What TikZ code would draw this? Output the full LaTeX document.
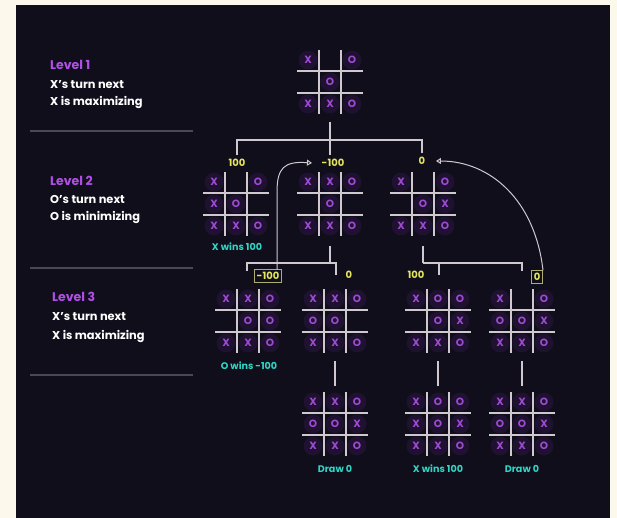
\documentclass[tikz,border=0pt]{standalone}
\usepackage{fontspec}
\setmainfont{Poppins}
\usetikzlibrary{positioning, calc, arrows.meta, backgrounds}

\definecolor{cream}{HTML}{FDF8EC}
\definecolor{panel}{HTML}{100E1A}
\definecolor{lvlc}{HTML}{B04FE6}
\definecolor{markc}{HTML}{9E4AD4}
\definecolor{gridc}{HTML}{CFC8CF}
\definecolor{scorec}{HTML}{E4E65C}
\definecolor{resultc}{HTML}{2FD6C6}
\definecolor{sepc}{HTML}{4A4852}
\definecolor{glowc}{HTML}{1F1130}

\tikzset{
  board/.style={minimum width=66pt, minimum height=64pt, inner sep=0pt},
  cellmark/.style={text=markc, font=\fontsize{10.5}{11}\selectfont\bfseries, inner sep=0pt},
  gridline/.style={draw=gridc, line width=1.6pt},
  wire/.style={draw=gridc, line width=1.6pt},
  score/.style={text=scorec, font=\fontsize{10}{10}\selectfont\bfseries, inner sep=1.5pt},
  scorebox/.style={score, draw=scorec!45!gray, line width=0.8pt, inner sep=2.5pt},
  result/.style={text=resultc, font=\fontsize{9.6}{10}\selectfont\bfseries, inner sep=0pt},
  levelhead/.style={text=lvlc, font=\fontsize{12.5}{13}\selectfont\bfseries, anchor=west, inner sep=0pt},
  leveltext/.style={text=white, font=\fontsize{11.4}{12}\selectfont\bfseries, anchor=west, inner sep=0pt},
  back/.style={-{Triangle[open, length=5pt, width=6pt]}, draw=gridc, line width=1pt},
}

% name, x, y, nine cells (- for empty)
\newcommand\board[4]{%
  \node[board] (#1) at (#2,#3) {};
  \foreach \m [count=\i from 0] in {#4}{
    \pgfmathtruncatemacro\cc{mod(\i,3)}
    \pgfmathtruncatemacro\rr{int(\i/3)}
    \if\m-\else
      \fill[glowc] ($(#1.center)+(22*\cc-22,22*\rr-22)$) circle (9.5pt);
      \node[cellmark] (#1-\i) at ($(#1.center)+(22*\cc-22,22*\rr-22)$) {\m};
    \fi
  }
  \foreach \d in {-11,11}{
    \draw[gridline] ($(#1.center)+(-33,\d)$) -- ++(66,0);
    \draw[gridline] ($(#1.center)+(\d,-32)$) -- ++(0,64);
  }
}

\begin{document}
\begin{tikzpicture}[x=1pt, y=-1pt]
\fill[cream] (0,0) rectangle (617,518);
\fill[panel] (16,5) rectangle (610,518);

% level captions
\node[levelhead] (lv1) at (50,65) {Level 1};
\node[leveltext] (lv1a) at (50,85) {X's turn next};
\node[leveltext] (lv1b) at (50,103) {X is maximizing};
\node[levelhead] (lv2) at (50,181) {Level 2};
\node[leveltext] (lv2a) at (50,199) {O's turn next};
\node[leveltext] (lv2b) at (50,218) {O is minimizing};
\node[levelhead] (lv3) at (52,297) {Level 3};
\node[leveltext] (lv3a) at (52,317) {X's turn next};
\node[leveltext] (lv3b) at (52,337) {X is maximizing};
\foreach \y in {131,268,375}
  \draw[sepc, line width=1.2pt] (30,\y) -- (193,\y);

% boards
\board{root}{330}{82}{X,-,O,-,O,-,X,X,O}
\board{L2a}{236}{204}{X,-,O,X,O,-,X,X,O}
\board{L2b}{330}{204}{X,X,O,-,O,-,X,X,O}
\board{L2c}{423}{204}{X,-,O,-,O,X,X,X,O}
\board{L3a}{248}{321}{X,X,O,-,O,O,X,X,O}
\board{L3b}{335}{321}{X,X,O,O,O,-,X,X,O}
\board{L3c}{438}{321}{X,O,O,-,O,X,X,X,O}
\board{L3d}{522}{321}{X,-,O,O,O,X,X,X,O}
\board{L4b}{335}{424}{X,X,O,O,O,X,X,X,O}
\board{L4c}{438}{424}{X,O,O,X,O,X,X,X,O}
\board{L4d}{522}{424}{X,X,O,O,O,X,X,X,O}

% scores
\node[score] (val2a) at (237,163) {100};
\node[score] (val2b) at (333,163) {-100};
\node[score] (val2c) at (422,161) {0};
\node[scorebox] (val3a) at (268,276) {-100};
\node[score] (val3b) at (349,275) {0};
\node[score] (val3c) at (416,275) {100};
\node[scorebox] (val3d) at (537,277) {0};

% results
\node[result] (res2a) at (237,247) {X wins 100};
\node[result] (res3a) at (249,366) {O wins -100};
\node[result] (res4b) at (335,469) {Draw 0};
\node[result] (res4c) at (438,469) {X wins 100};
\node[result] (res4d) at (522,469) {Draw 0};

% tree
\coordinate (hub1) at (330,140);
\draw[wire, shorten <=8pt, shorten >=3pt] (root.south) -- (root.south |- val2b.north);
\draw[wire, shorten <=3pt, shorten >=3pt] (val2a.north) |- (hub1) -| (val2c.north);

\coordinate (hub2) at (330,263);
\coordinate (drop3a) at (247,271);
\coordinate (drop3b) at (336,275);
\draw[wire, shorten <=10pt] (L2b.south) -- (hub2);
\draw[wire] (drop3a) |- (hub2) -| (drop3b);

\coordinate (hub3) at (423,263);
\coordinate (drop3c) at (439,275);
\coordinate (drop3d) at (522,271);
\draw[wire, shorten <=10pt] (L2c.south) -- (hub3);
\draw[wire] (hub3) -| (drop3d);
\draw[wire] (drop3c |- hub3) -- (drop3c);

\draw[wire, shorten <=8pt, shorten >=6pt] (L3b) -- (L4b);
\draw[wire, shorten <=8pt, shorten >=6pt] (L3c) -- (L4c);
\draw[wire, shorten <=8pt, shorten >=6pt] (L3d) -- (L4d);

% backed-up values
\draw[back] ([xshift=9pt]val3a.north) -- (277,192) .. controls (277,168) and (284,161) .. ([xshift=-8pt]val2b.west);
\draw[back] ([xshift=6pt]val3d.north) .. controls (535,200) and (490,161) .. ([xshift=9pt]val2c.east);
\end{tikzpicture}
\end{document}
